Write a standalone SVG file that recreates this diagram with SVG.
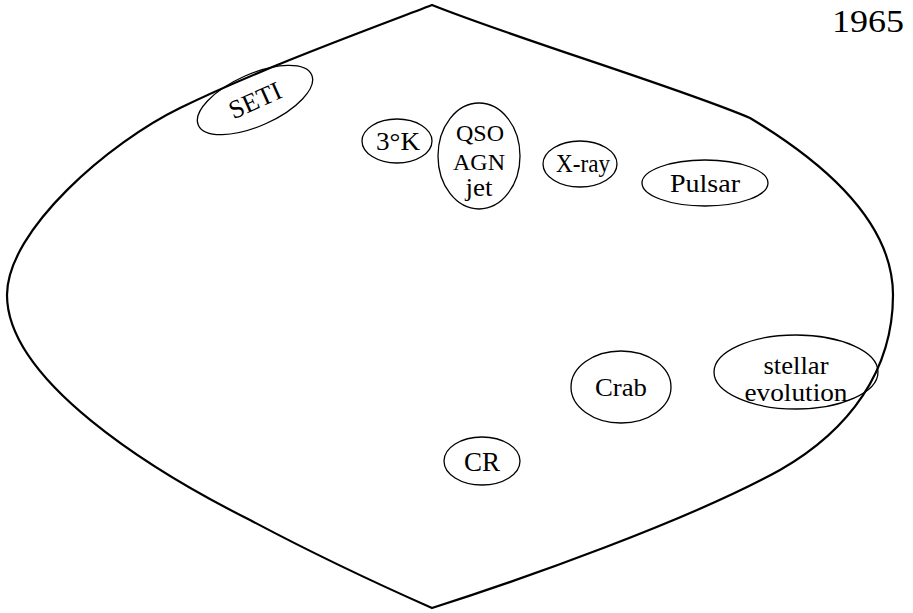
<svg xmlns="http://www.w3.org/2000/svg" width="913" height="613" viewBox="0 0 913 613">
<style>
.b{fill:none;stroke:#000;stroke-width:2.2}
.e{fill:none;stroke:#000;stroke-width:1.3}
.t{font-family:"Liberation Serif","Times New Roman",serif;font-size:25px;fill:#000;text-anchor:middle}
</style>
<rect width="913" height="613" fill="#fff"/>
<g id="boundary">
<path class="b" d="M432,5 C370,29 262,68 180,108 C110,142 7,230 7,295 C7,380 150,470 250,520 C310,552 380,585 432,608 C520,580 690,520 780,470 C850,430 893,370 893,295 C893,220 820,160 750,118 C680,88 520,40 432,5 Z"/>
</g>
<text class="t" x="868" y="32" style="font-size:32px" textLength="72" lengthAdjust="spacingAndGlyphs">1965</text>
<g id="seti">
<ellipse class="e" cx="255" cy="100" rx="62" ry="26" transform="rotate(-24 255 100)"/>
<text class="t" x="255" y="109" transform="rotate(-24 255 100)" style="font-size:26px">SETI</text>
</g>
<g id="k3">
<ellipse class="e" cx="397" cy="141" rx="35" ry="22"/>
<text class="t" x="398" y="150" style="font-size:26px" textLength="44" lengthAdjust="spacingAndGlyphs">3°K</text>
</g>
<g id="qso">
<ellipse class="e" cx="479" cy="156" rx="41" ry="53"/>
<text class="t" x="480" y="141" style="font-size:24px">QSO</text>
<text class="t" x="479" y="170" style="font-size:24px">AGN</text>
<text class="t" x="479" y="196" textLength="27" lengthAdjust="spacingAndGlyphs">jet</text>
</g>
<g id="xray">
<ellipse class="e" cx="580" cy="164" rx="37" ry="23"/>
<text class="t" x="583" y="172" textLength="54" lengthAdjust="spacingAndGlyphs">X-ray</text>
</g>
<g id="pulsar">
<ellipse class="e" cx="705" cy="183" rx="63" ry="23"/>
<text class="t" x="705" y="192" textLength="70" lengthAdjust="spacingAndGlyphs">Pulsar</text>
</g>
<g id="crab">
<ellipse class="e" cx="621" cy="387" rx="50" ry="36"/>
<text class="t" x="621" y="396" textLength="52" lengthAdjust="spacingAndGlyphs">Crab</text>
</g>
<g id="stellar">
<ellipse class="e" cx="796" cy="372" rx="82" ry="37"/>
<text class="t" x="796" y="374" textLength="65" lengthAdjust="spacingAndGlyphs">stellar</text>
<text class="t" x="796" y="401" textLength="103" lengthAdjust="spacingAndGlyphs">evolution</text>
</g>
<g id="cr">
<ellipse class="e" cx="482" cy="461" rx="38" ry="24"/>
<text class="t" x="482" y="471" style="font-size:27px">CR</text>
</g>
<g id="connectors"></g>
</svg>
